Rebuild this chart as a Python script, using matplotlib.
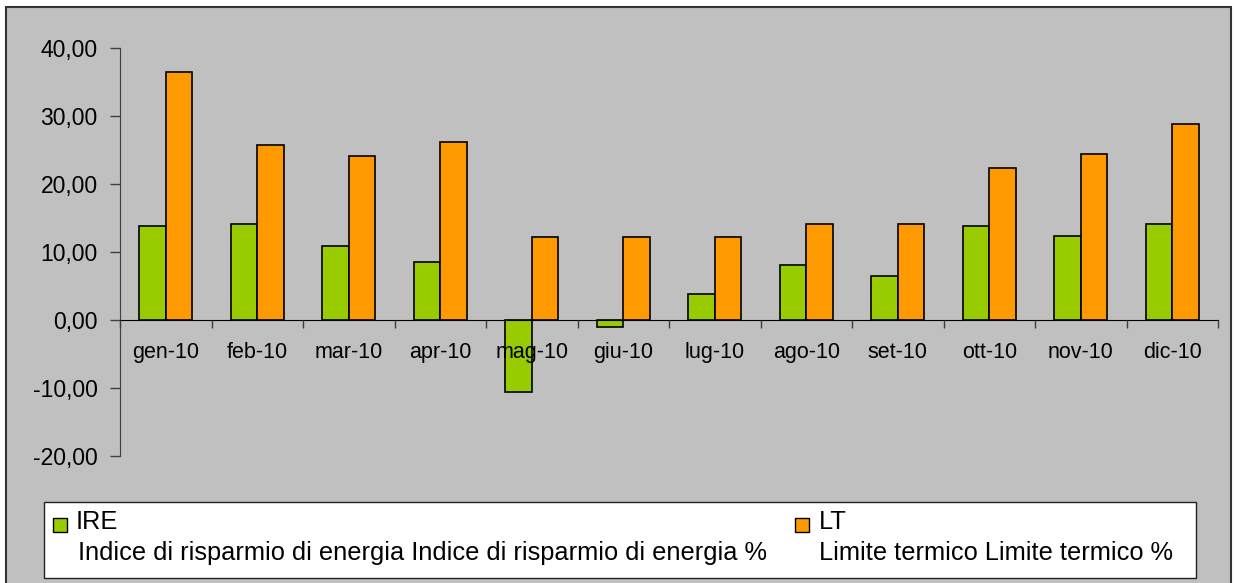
import matplotlib
matplotlib.use("Agg")
import matplotlib.pyplot as plt
from matplotlib.patches import Rectangle
from matplotlib.ticker import FuncFormatter, FixedLocator
import numpy as np

plt.rcParams['font.family'] = ['Liberation Sans', 'DejaVu Sans']

months = ["gen-10", "feb-10", "mar-10", "apr-10", "mag-10", "giu-10",
          "lug-10", "ago-10", "set-10", "ott-10", "nov-10", "dic-10"]
ire = [13.8, 14.1, 10.9, 8.5, -10.6, -1.0, 3.8, 8.1, 6.4, 13.8, 12.35, 14.1]
lt = [36.5, 25.8, 24.1, 26.2, 12.25, 12.25, 12.25, 14.1, 14.1, 22.3, 24.4, 28.8]

ire_label = "IRE"
ire_desc = "Indice di risparmio di energia Indice di risparmio di energia %"
lt_label = "LT"
lt_desc = "Limite termico Limite termico %"

GREEN = "#99CC00"
ORANGE = "#FF9900"
BG = "#C0C0C0"

W, H = 1234, 583
fig = plt.figure(figsize=(W / 100, H / 100), dpi=100)
fig.patch.set_facecolor("white")

def fx(px):
    return px / W

def fy(py):
    return 1 - py / H

# chart area frame
fig.patches.append(Rectangle((fx(6), fy(590)), fx(1231) - fx(6), fy(7) - fy(590),
                             transform=fig.transFigure, facecolor=BG,
                             edgecolor="#333333", linewidth=1.5, zorder=-5))

ax = fig.add_axes([fx(120), fy(456), fx(1218) - fx(120), fy(48) - fy(456)])
ax.set_facecolor("none")
ax.set_zorder(1)

x = np.arange(len(months))
bw = 0.29
ax.bar(x - bw / 2, ire, bw, color=GREEN, edgecolor="black", linewidth=1.2, zorder=2)
ax.bar(x + bw / 2, lt, bw, color=ORANGE, edgecolor="black", linewidth=1.2, zorder=2)

ax.set_xlim(-0.5, len(months) - 0.5)
ax.set_ylim(-20, 40)
ax.set_yticks(np.arange(-20, 41, 10))
ax.yaxis.set_major_formatter(FuncFormatter(lambda v, p: f"{v:.2f}".replace(".", ",")))
ax.tick_params(axis="y", direction="out", length=7, width=1, color="#404040",
               labelsize=16.5, pad=9)

for s in ("top", "right"):
    ax.spines[s].set_visible(False)
ax.spines["left"].set_color("#404040")
ax.spines["bottom"].set_position(("data", 0))
ax.spines["bottom"].set_color("black")
ax.spines["bottom"].set_zorder(4)
ax.xaxis.set_zorder(5)

ax.set_xticks(x)
ax.set_xticklabels(months)
ax.xaxis.set_minor_locator(FixedLocator(np.arange(-0.5, len(months), 1.0)))
ax.tick_params(axis="x", which="major", length=0, labelsize=15.5, pad=16)
ax.tick_params(axis="x", which="minor", direction="out", length=6, width=1, color="#404040")

# legend box
fig.patches.append(Rectangle((fx(44), fy(578)), fx(1196) - fx(44), fy(502) - fy(578),
                             transform=fig.transFigure, facecolor="white",
                             edgecolor="#222222", linewidth=1.0, zorder=5))
for sx, lx, tx, col, lab, desc in ((53, 76, 78, GREEN, ire_label, ire_desc),
                                    (795, 819, 819, ORANGE, lt_label, lt_desc)):
    fig.patches.append(Rectangle((fx(sx), fy(532)), fx(14), fy(518) - fy(532),
                                 transform=fig.transFigure, facecolor=col,
                                 edgecolor="black", linewidth=1.0, zorder=6))
    fig.text(fx(lx), fy(522), lab, fontsize=18.3, va="center", ha="left", zorder=7)
    fig.text(fx(tx), fy(553), desc, fontsize=18.3, va="center", ha="left", zorder=7)

fig.savefig("out.png", dpi=100, facecolor=fig.get_facecolor())
